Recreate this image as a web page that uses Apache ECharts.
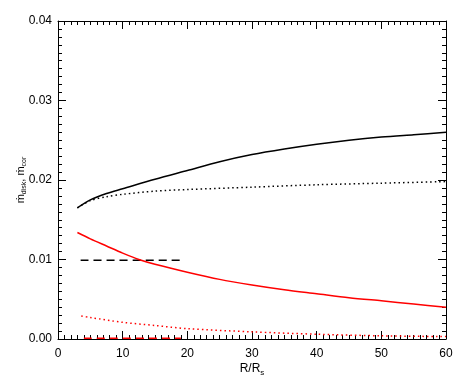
<!DOCTYPE html>
<html><head><meta charset="utf-8">
<script src="https://cdn.jsdelivr.net/npm/echarts@6/dist/echarts.min.js"></script>
<style>html,body{margin:0;padding:0;background:#fff}#c{width:463px;height:382px}</style>
</head><body><div id="c"></div>
<script>
const xTicks = [0, 10, 20, 30, 40, 50, 60];
const yTicks = [0.00, 0.01, 0.02, 0.03, 0.04];

const xBlackSolid = [3, 5, 7.5, 10, 15, 20, 25, 30, 35, 40, 45, 50, 55, 60];
const yBlackSolid = [0.0165, 0.0175, 0.0183, 0.0189, 0.0201, 0.0212, 0.0223, 0.0232, 0.0239, 0.0245, 0.0250, 0.0254, 0.0257, 0.0260];

const xBlackDotted = [3, 5, 7.5, 10, 15, 20, 30, 40, 50, 60];
const yBlackDotted = [0.0165, 0.0174, 0.0179, 0.0182, 0.0186, 0.0188, 0.0191, 0.0194, 0.0196, 0.0198];

const xBlackDashed = [3.5, 19];
const yBlackDashed = [0.0099, 0.0099];

const xRedSolid = [3, 5, 7.5, 10, 12.5, 15, 20, 25, 30, 35, 40, 45, 50, 55, 60];
const yRedSolid = [0.0134, 0.0126, 0.0117, 0.0108, 0.0100, 0.0094, 0.0084, 0.0075, 0.0068, 0.0062, 0.0057, 0.0052, 0.0048, 0.0044, 0.0040];

const xRedDotted = [3.6, 5, 10, 15, 20, 30, 40, 50, 60];
const yRedDotted = [0.0029, 0.0027, 0.0021, 0.0017, 0.0013, 0.0009, 0.0006, 0.0004, 0.0003];

const xRedDashed = [4, 19];
const yRedDashed = [0.0001, 0.0001];

const pairs = (xs, ys) => xs.map((x, i) => [x, ys[i]]);
const FONT = 'Liberation Sans';

function line(xs, ys, color, type, width) {
  return {
    type: 'line', data: pairs(xs, ys), showSymbol: false, smooth: 0.3,
    lineStyle: { color: color, type: type, width: width },
    silent: true, animation: false, clip: false
  };
}

const xBase = {
  type: 'value', min: xTicks[0], max: xTicks[xTicks.length - 1], interval: 10,
  axisLine: { show: true, onZero: false, lineStyle: { color: '#000', width: 1 } },
  axisTick: { show: true, inside: true, length: 8, lineStyle: { color: '#000' } },
  minorTick: { show: true, splitNumber: 10, length: 4, lineStyle: { color: '#000' } },
  splitLine: { show: false }, minorSplitLine: { show: false }
};
const yBase = {
  type: 'value', min: yTicks[0], max: yTicks[yTicks.length - 1], interval: 0.01,
  axisLine: { show: true, onZero: false, lineStyle: { color: '#000', width: 1 } },
  axisTick: { show: true, inside: true, length: 8, lineStyle: { color: '#000' } },
  minorTick: { show: true, splitNumber: 10, length: 4, lineStyle: { color: '#000' } },
  splitLine: { show: false }, minorSplitLine: { show: false }
};

const chart = echarts.init(document.getElementById('c'));
chart.setOption({
  animation: false,
  backgroundColor: '#fff',
  grid: { left: 58, right: 17, top: 21, bottom: 43 },
  xAxis: [
    Object.assign({}, xBase, {
      position: 'bottom',
      axisLabel: { color: '#000', fontFamily: FONT, fontSize: 12, margin: 9 },
      name: '{n|R/R}{s|s}', nameLocation: 'middle', nameGap: 22, nameMoveOverlap: false,
      nameTextStyle: {
        rich: {
          n: { fontFamily: FONT, fontSize: 12, color: '#000' },
          s: { fontFamily: FONT, fontSize: 8, color: '#000', padding: [8, 0, 0, 0] }
        }
      }
    }),
    Object.assign({}, xBase, { position: 'top', axisLabel: { show: false } })
  ],
  yAxis: [
    Object.assign({}, yBase, {
      position: 'left',
      axisLabel: { color: '#000', fontFamily: FONT, fontSize: 12, margin: 6,
        formatter: v => v.toFixed(2) },
      name: '{m|ṁ}{s|disk}{m|, ṁ}{s|cor}', nameLocation: 'middle', nameGap: 30, nameRotate: 90,
      nameMoveOverlap: false,
      nameTextStyle: {
        rich: {
          m: { fontFamily: FONT, fontSize: 11, color: '#000' },
          s: { fontFamily: FONT, fontSize: 7, color: '#000', padding: [7, 0, 0, 0] }
        }
      }
    }),
    Object.assign({}, yBase, { position: 'right', axisLabel: { show: false } })
  ],
  series: [
    line(xBlackSolid, yBlackSolid, '#000', 'solid', 1.5),
    line(xBlackDotted, yBlackDotted, '#000', [1.5, 3], 1.5),
    line(xBlackDashed, yBlackDashed, '#000', [8, 5], 1.5),
    line(xRedSolid, yRedSolid, '#ff0000', 'solid', 1.5),
    line(xRedDotted, yRedDotted, '#ff0000', [1.5, 3], 1.5),
    line(xRedDashed, yRedDashed, '#ff0000', [8, 5], 1.5)
  ]
});
</script>
</body></html>
